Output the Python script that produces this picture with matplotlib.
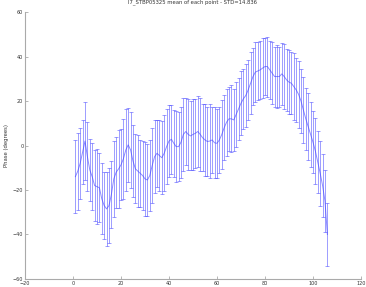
import matplotlib
matplotlib.use("Agg")
import matplotlib.pyplot as plt
import numpy as np

x_vals = list(range(1, 107))
mean_vals = [-14, -11.5, -8, -3, 2, -5, -11, -14, -18, -18.5,
             -19, -24, -27, -28.5, -27, -22, -15, -12, -10.5, -8.7,
             -6, -2, 0.3, -2, -7, -10.5, -11.5, -12.5, -13.5, -15,
             -15.5, -13.5, -9, -5, -3.5, -4.5, -5.5, -3.5, -0.5, 2,
             2.8, 1, -0.5, -0.5, 1.5, 5, 6.3, 5, 4.3, 5,
             5.5, 6.3, 5, 3.5, 2.5, 1.8, 2, 2.5, 1.2, 1,
             2.5, 5, 8, 10.5, 12, 12, 11.5, 14, 16.5, 19,
             21, 22.5, 25, 28, 31, 33, 33.5, 34, 34.8, 35.5,
             35.5, 34, 32.5, 31, 31, 31, 32.2, 31, 29.5, 28.5,
             28, 26.5, 25, 23, 20, 16, 12, 8.5, 5, 1.5,
             -2.5, -7.5, -12.5, -18, -25, -40]
std_vals = [16.5, 17.3, 16, 14.5, 17.7, 15.5, 14, 15, 16, 17,
            15.5, 16, 15, 16.5, 17, 15, 17, 16, 17.5, 16,
            18, 18.5, 16.5, 17, 16, 15.5, 16, 15, 15.5, 16.5,
            16, 16, 17, 16.5, 15, 16, 16.5, 17, 17, 16,
            15.5, 15, 16, 15.5, 16, 16.5, 15, 16, 15.5, 16,
            15.5, 16, 16.5, 15, 16, 15.5, 16.5, 15, 16, 15.5,
            15, 15.5, 14.5, 15, 14.5, 15, 14, 14.5, 14, 14.5,
            13.5, 14, 13.5, 14, 13, 13.5, 13, 13, 13.5, 13,
            13.5, 13, 14, 13.5, 14, 13.5, 14, 14.5, 14, 14.5,
            14, 15, 14.5, 15, 14.5, 15, 14, 15, 14.5, 14,
            15, 14, 14.5, 14, 14, 14]

title_text = "I7_STBP05325 mean of each point - STD=14.836"
ylabel_text = "Phase (degrees)"
xticks = [-20, 0, 20, 40, 60, 80, 100, 120]
yticks = [-60, -40, -20, 0, 20, 40, 60]

fig = plt.figure(figsize=(3.66, 2.87), dpi=100)
ax = fig.add_axes([0.0683, 0.028, 0.918, 0.930])

blue = "#4040ff"
ax.errorbar(x_vals, mean_vals, yerr=std_vals, color=blue, alpha=0.6,
            linewidth=0.7, elinewidth=0.6, capsize=1.6, capthick=0.6)

ax.set_xlim(-20, 120)
ax.set_ylim(-60, 60)
ax.set_xticks(xticks)
ax.set_yticks(yticks)
ax.tick_params(direction="in", length=2.5, width=0.5, color="#999999",
               labelsize=3.5, pad=1.2, labelcolor="#333333")
for s in ["top", "right"]:
    ax.spines[s].set_visible(False)
for s in ["left", "bottom"]:
    ax.spines[s].set_color("#aaaaaa")
    ax.spines[s].set_linewidth(0.8)

ax.set_title(title_text, fontsize=3.8, pad=6, color="#333333")
ax.set_ylabel(ylabel_text, fontsize=3.8, labelpad=3, color="#333333")

fig.savefig("out.png", dpi=100)
